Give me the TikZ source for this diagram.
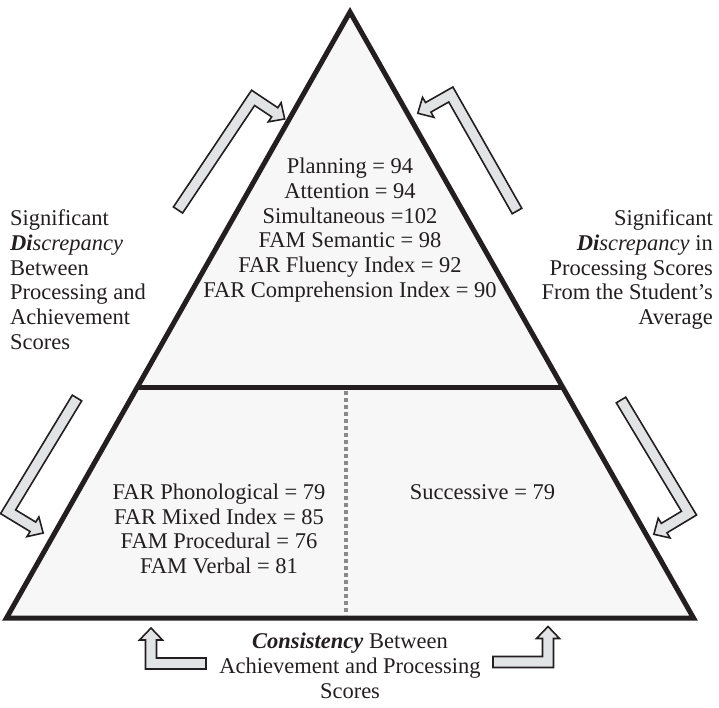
\documentclass[tikz,border=0pt]{standalone}
\usepackage{fontspec}
\setmainfont{Liberation Serif}
\definecolor{ink}{HTML}{231F20}
\definecolor{panel}{HTML}{F7F7F7}
\definecolor{arrowfill}{HTML}{E2E3E5}
\definecolor{divgray}{HTML}{8A8A8A}
% bent block arrow: start point, direction angle, first leg, second leg, turn side (1 left / -1 right)
\def\aw{5.5}\def\ab{6}\def\ahl{12}
\newcommand\bentarrow[5]{%
  \begin{scope}[shift={#1}, x=1pt, y=1pt, rotate=#2, yscale=#5]
    \draw[arrowbox] (0,-\aw) -- ({#3+\aw},-\aw) -- ({#3+\aw},#4) -- ({#3+\aw+\ab},#4)
      -- (#3,{#4+\ahl}) -- ({#3-\aw-\ab},#4) -- ({#3-\aw},#4) -- ({#3-\aw},\aw)
      -- (0,\aw) -- cycle;
  \end{scope}}
\begin{document}
\begin{tikzpicture}[x=1pt,y=-1pt,
  txt/.style={inner sep=0pt, font=\fontsize{22.5}{25}\selectfont, text=ink},
  arrowbox/.style={draw=ink, fill=arrowfill, line width=1.6pt, line join=miter},
  frame/.style={draw=ink, line width=5pt, line join=miter}]
\useasboundingbox (0,0) rectangle (719,707);

% triangle corners
\coordinate (apex) at (350,12);
\coordinate (bl) at (6.5,618);
\coordinate (br) at (693.5,618);
\coordinate (divL) at (137.4,387);
\coordinate (divR) at (562.6,387);
\coordinate (dotT) at (345.5,391);
\coordinate (dotB) at (345.5,615);

\fill[panel] (apex) -- (br) -- (bl) -- cycle;
\draw[divgray, line width=4pt, dash pattern=on 4pt off 3pt] (dotT) -- (dotB);
\draw[frame] (divL) -- (divR);
\draw[frame] (apex) -- (br) -- (bl) -- cycle;

% upper panel
\foreach \t [count=\i from 0] in {Planning = 94, Attention = 94, Simultaneous =102,
    FAM Semantic = 98, FAR Fluency Index = 92, FAR Comprehension Index = 90}
  \node[txt, anchor=base] (up\i) at (350,{173.5+24.8*\i}) {\t};

% lower left panel
\foreach \t [count=\i from 0] in {FAR Phonological = 79, FAR Mixed Index = 85,
    FAM Procedural = 76, FAM Verbal = 81}
  \node[txt, anchor=base] (lo\i) at (219,{499.5+24.7*\i}) {\t};

% lower right panel
\node[txt, anchor=base] (succ) at (482.5,499.5) {Successive = 79};

% left caption
\foreach \t [count=\i from 0] in {Significant, {\textbf{\textit{Di}}\textit{screpancy}},
    Between, Processing and, Achievement, Scores}
  \node[txt, anchor=base west] (lc\i) at (10,{225.5+24.8*\i}) {\t};

% right caption
\foreach \t [count=\i from 0] in {Significant, {\textbf{\textit{Di}}\textit{screpancy} in},
    Processing Scores, From the Student's, Average}
  \node[txt, anchor=base east] (rc\i) at (713,{225.5+24.8*\i}) {\t};

% bottom caption
\node[txt, anchor=base] (bc0) at (350,648.5) {\textbf{\textit{Consistency}} Between};
\node[txt, anchor=base] (bc1) at (350,673.5) {Achievement and Processing};
\node[txt, anchor=base] (bc2) at (350,698.5) {Scores};

% bent arrows
\bentarrow{(178,210)}{56.2}{135}{26}{-1}
\bentarrow{(517,211)}{119.6}{134}{26}{1}
\bentarrow{(77,398)}{238.8}{133}{29}{1}
\bentarrow{(621,400)}{301}{132}{29}{-1}
\bentarrow{(206,663.5)}{180}{55}{23.5}{-1}
\bentarrow{(493,662)}{0}{55}{23.5}{1}
\end{tikzpicture}
\end{document}
